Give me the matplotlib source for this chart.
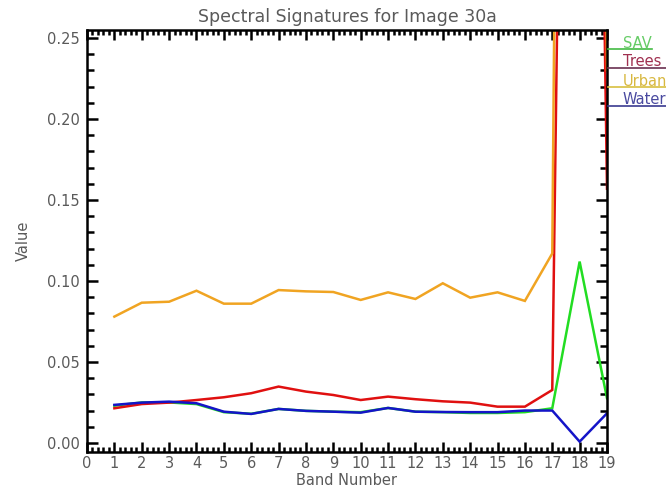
import matplotlib
matplotlib.use("Agg")
import matplotlib.pyplot as plt
from matplotlib.lines import Line2D
from matplotlib.ticker import MultipleLocator

# band numbers and spectral values
bands = list(range(1, 20))
sav = [0.023, 0.025, 0.025, 0.024, 0.019, 0.018, 0.021, 0.0198, 0.0193, 0.019,
       0.0216, 0.0193, 0.019, 0.0185, 0.0185, 0.019, 0.0214, 0.112, 0.0276]
trees = [0.0214, 0.024, 0.0249, 0.0265, 0.0282, 0.0307, 0.0348, 0.0317, 0.0296, 0.0265,
         0.0286, 0.027, 0.0257, 0.0249, 0.0224, 0.0224, 0.0327, 1.3, 0.157]
urban = [0.078, 0.0866, 0.0872, 0.094, 0.086, 0.086, 0.0944, 0.0936, 0.0932, 0.0883,
         0.093, 0.0889, 0.0986, 0.0897, 0.093, 0.0877, 0.117, 2.1, 0.23]
water = [0.0235, 0.0249, 0.0255, 0.0245, 0.0193, 0.0179, 0.021, 0.0198, 0.0193, 0.0187,
         0.0216, 0.0193, 0.0191, 0.019, 0.019, 0.02, 0.02, 0.0008, 0.0183]

names = ["SAV", "Trees", "Urban", "Water"]
line_colors = ["#22dd22", "#e01010", "#f0a422", "#1414c8"]
text_colors = ["#66cc66", "#a03050", "#d8b840", "#4a4aa0"]
key_colors = ["#44bb44", "#6a3050", "#d8c040", "#3a3a90"]

gray = "#5a5a5a"

fig = plt.figure(figsize=(6.66, 4.87), dpi=100)
ax = fig.add_axes([87 / 666, 1 - 452 / 487, 520 / 666, 422 / 487])

for vals, c in zip([sav, trees, urban, water], line_colors):
    ax.plot(bands, vals, color=c, lw=1.8, solid_joinstyle="miter")

ax.set_xlim(0, 19)
ax.set_ylim(-0.0056, 0.255)
ax.xaxis.set_major_locator(MultipleLocator(1))
ax.xaxis.set_minor_locator(MultipleLocator(0.2))
ax.yaxis.set_major_locator(MultipleLocator(0.05))
ax.yaxis.set_minor_locator(MultipleLocator(0.01))
ax.yaxis.set_major_formatter(matplotlib.ticker.FormatStrFormatter("%.2f"))

for s in ax.spines.values():
    s.set_linewidth(1.8)
ax.tick_params(which="both", direction="in", top=True, right=True, width=1.8,
               labelcolor=gray, labelsize=10.5)
ax.tick_params(axis="x", which="major", length=7, pad=3)
ax.tick_params(axis="x", which="minor", length=3.5)
ax.tick_params(axis="y", which="major", length=8, pad=5)
ax.tick_params(axis="y", which="minor", length=5)

ax.set_title("Spectral Signatures for Image 30a", fontsize=12.5, color=gray, pad=6)
ax.set_xlabel("Band Number", fontsize=10.5, color=gray, labelpad=1)
ax.set_ylabel("Value", fontsize=10.5, color=gray, labelpad=12)

# legend outside the right axis, IDL style: label over a short colored line
ys_text = [43, 62, 81, 100]
ys_line = [49, 68, 87, 106]
ends = [652, 666, 666, 666]
for n, tc, kc, yt, yl, xe in zip(names, text_colors, key_colors, ys_text, ys_line, ends):
    fig.text(623 / 666, 1 - yt / 487, n, color=tc, fontsize=10.5, ha="left", va="center")
    fig.add_artist(Line2D([608 / 666, xe / 666], [1 - yl / 487, 1 - yl / 487],
                          color=kc, lw=1.2, transform=fig.transFigure))

fig.savefig("out.png", dpi=100)
